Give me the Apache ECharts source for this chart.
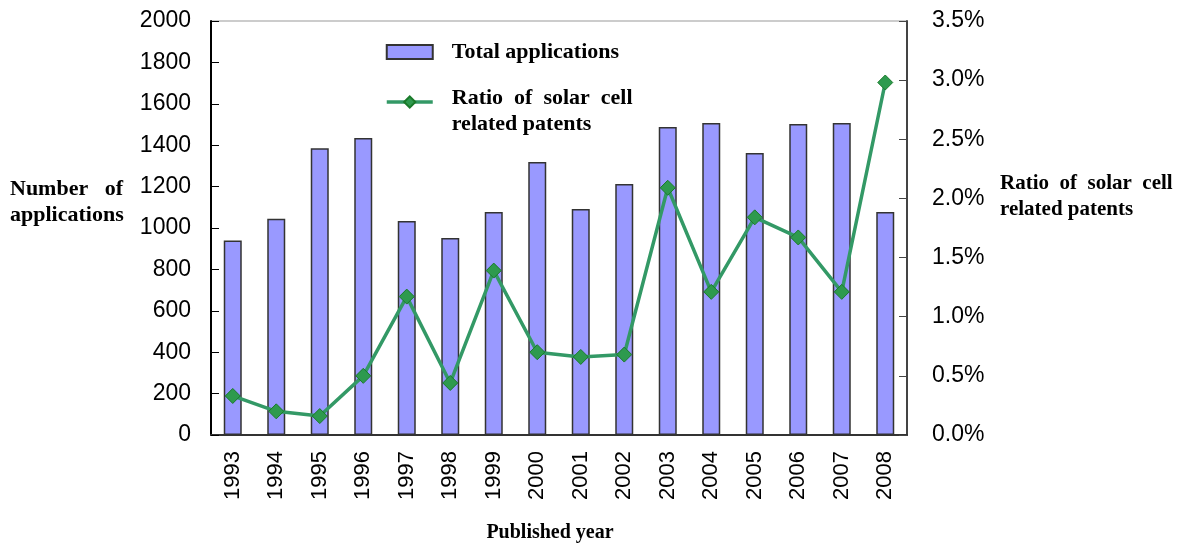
<!DOCTYPE html>
<html>
<head>
<meta charset="utf-8">
<script src="https://cdn.jsdelivr.net/npm/echarts@6/dist/echarts.min.js"></script>
<style>
html, body { margin: 0; padding: 0; background: #fff; }
#chart { width: 1194px; height: 544px; }
</style>
</head>
<body>
<div id="chart"></div>
<script>
var years = ['1993', '1994', '1995', '1996', '1997', '1998', '1999', '2000',
    '2001', '2002', '2003', '2004', '2005', '2006', '2007', '2008'];
var totalApps = [940, 1045, 1385, 1435, 1034, 952, 1077, 1319,
    1092, 1213, 1488, 1507, 1362, 1502, 1507, 1077];
var solarRatio = [0.33, 0.20, 0.16, 0.50, 1.17, 0.44, 1.39, 0.70,
    0.66, 0.68, 2.09, 1.21, 1.84, 1.67, 1.21, 2.98];

var tickFont = 'Liberation Sans, Arial, sans-serif';
var titleFont = 'Liberation Serif, Times New Roman, serif';

var myChart = echarts.init(document.getElementById('chart'));

myChart.setOption({
    animation: false,
    grid: {
        left: 211,
        right: 287,
        top: 21,
        bottom: 109,
        outerBoundsMode: 'none',
        containLabel: false,
        show: true,
        borderColor: '#999',
        borderWidth: 1
    },
    legend: {
        orient: 'vertical',
        left: 380,
        top: 36,
        itemGap: 6,
        itemWidth: 46,
        itemHeight: 14,
        textStyle: {
            fontFamily: titleFont,
            fontWeight: 'bold',
            fontSize: 22,
            color: '#000',
            rich: {
                a: {
                    fontFamily: titleFont,
                    fontWeight: 'bold',
                    fontSize: 22,
                    lineHeight: 26,
                    padding: [0, 0, 0, 14]
                },
                b: {
                    fontFamily: titleFont,
                    fontWeight: 'bold',
                    fontSize: 22,
                    lineHeight: 26,
                    padding: [18, 0, 0, 14]
                }
            }
        },
        formatter: function (name) {
            if (name === 'ratio') {
                return '{b|Ratio  of  solar  cell\nrelated patents}';
            }
            return '{a|Total applications}';
        },
        data: [
            { name: 'total', icon: 'rect' },
            { name: 'ratio', lineStyle: { width: 3.5 } }
        ]
    },
    xAxis: {
        type: 'category',
        data: years,
        boundaryGap: true,
        name: 'Published year',
        nameLocation: 'middle',
        nameGap: 88,
        nameTextStyle: {
            fontFamily: titleFont,
            fontWeight: 'bold',
            fontSize: 20,
            color: '#000',
            padding: [0, 18, 0, 0]
        },
        axisLine: { lineStyle: { color: '#333', width: 2 } },
        axisTick: { inside: true, length: 7, lineStyle: { color: '#777', width: 2 } },
        axisLabel: {
            rotate: 90,
            margin: 16,
            fontFamily: tickFont,
            fontSize: 22,
            color: '#000'
        }
    },
    yAxis: [
        {
            type: 'value',
            min: 0,
            max: 2000,
            interval: 200,
            position: 'left',
            splitLine: { show: false },
            axisLine: { show: true, lineStyle: { color: '#000', width: 2 } },
            axisTick: { show: true, inside: true, length: 8, lineStyle: { color: '#000' } },
            axisLabel: {
                margin: 20,
                fontFamily: tickFont,
                fontSize: 23,
                color: '#000',
                formatter: function (v) { return String(v); }
            }
        },
        {
            type: 'value',
            min: 0,
            max: 3.5,
            interval: 0.5,
            position: 'right',
            splitLine: { show: false },
            axisLine: { show: true, lineStyle: { color: '#444', width: 2 } },
            axisTick: { show: true, inside: true, length: 8, lineStyle: { color: '#444' } },
            axisLabel: {
                margin: 25,
                fontFamily: tickFont,
                fontSize: 23,
                color: '#000',
                formatter: function (v) { return v.toFixed(1) + '%'; }
            }
        }
    ],
    graphic: [
        {
            type: 'text',
            left: 10,
            top: 176,
            style: {
                text: 'Number   of\napplications',
                font: 'bold 22px ' + titleFont,
                fill: '#000',
                lineHeight: 26
            }
        },
        {
            type: 'text',
            left: 1000,
            top: 171,
            style: {
                text: 'Ratio  of  solar  cell\nrelated patents',
                font: 'bold 21px ' + titleFont,
                fill: '#000',
                lineHeight: 26
            }
        }
    ],
    series: [
        {
            name: 'total',
            type: 'bar',
            data: totalApps,
            yAxisIndex: 0,
            barWidth: 18,
            itemStyle: {
                color: '#9999ff',
                borderColor: '#333',
                borderWidth: 1.5
            }
        },
        {
            name: 'ratio',
            type: 'line',
            data: solarRatio,
            yAxisIndex: 1,
            symbol: 'diamond',
            symbolSize: 15,
            lineStyle: { color: '#339966', width: 3.5 },
            itemStyle: {
                color: '#2e9a4e',
                borderColor: '#1a7a2a',
                borderWidth: 1
            }
        }
    ]
});
</script>
</body>
</html>
